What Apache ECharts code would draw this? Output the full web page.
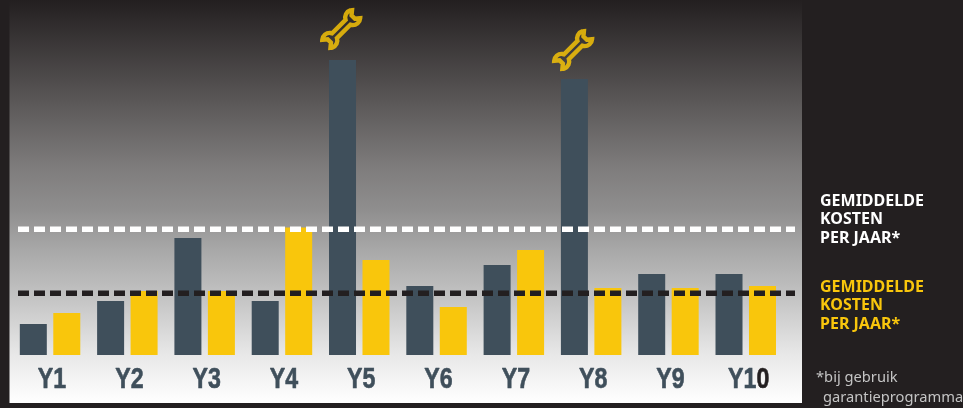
<!DOCTYPE html>
<html><head><meta charset="utf-8">
<style>html,body{margin:0;padding:0;background:#231f20}#c{width:963px;height:408px}</style>
<script src="https://cdn.jsdelivr.net/npm/echarts@6/dist/echarts.min.js"></script>
</head><body><div id="c"></div>
<script>
const categories = ['Y1','Y2','Y3','Y4','Y5','Y6','Y7','Y8','Y9','Y10'];
const slateValues = [31,54,117,54,295,69,90,276,81,81];
const yellowValues = [42,64,64,127.5,95,48,105,67,67,69];
const whiteAverage = 125.8;
const blackAverage = 61.7;
const wrenchValues = [null,null,null,null,326,null,null,305,null,null];
const wrenchPath = 'path://M-14 -5L14 -5A11 11 0 0 1 31 -8.5L25 -3.5L25 3.5L31 8.5A11 11 0 0 1 14 5L-14 5A11 11 0 0 1 -31 8.5L-25 3.5L-25 -3.5L-31 -8.5A11 11 0 0 1 -14 -5Z';
const chart = echarts.init(document.getElementById('c'), null, {renderer:'canvas'});
const rightFont = '"Noto Sans"';
const labelFont = '700 29px "Liberation Sans"';
chart.setOption({
  backgroundColor:'#231f20',
  animation:false,
  graphic:[
    {type:'rect',z:-10,shape:{x:9.5,y:0,width:792.5,height:403},style:{fill:new echarts.graphic.LinearGradient(0,0,0,1,[
      {offset:0,color:'#231f20'},{offset:0.25,color:'#5a5757'},{offset:0.42,color:'#7f7d7d'},{offset:0.52,color:'#8f8e8e'},
      {offset:0.62,color:'#a8a8a8'},{offset:0.745,color:'#c5c5c5'},{offset:0.88,color:'#e8e8e8'},{offset:1,color:'#ffffff'}])}},
    {type:'text',x:820,y:192,style:{text:'GEMIDDELDE\nKOSTEN\nPER JAAR*',fill:'#ffffff',font:'700 16px '+rightFont,lineHeight:18.5}},
    {type:'text',x:820,y:278,style:{text:'GEMIDDELDE\nKOSTEN\nPER JAAR*',fill:'#f9c60c',font:'700 16px '+rightFont,lineHeight:18.5}},
    {type:'text',x:816,y:370,style:{text:'*bij gebruik',fill:'#c4c4c4',font:'400 14.7px '+rightFont}},
    {type:'text',x:823,y:390,style:{text:'garantieprogramma',fill:'#c4c4c4',font:'400 14.7px '+rightFont}}
  ],
  grid:[
    {left:11.4,right:178.6,top:0,bottom:53},
    {left:18,right:168,top:0,bottom:53}
  ],
  xAxis:[
    {type:'category',gridIndex:0,data:categories,
     axisLine:{show:false},axisTick:{show:false},splitLine:{show:false},axisLabel:{show:false}},
    {type:'value',gridIndex:1,min:0,max:1,show:false}
  ],
  yAxis:[
    {type:'value',gridIndex:0,min:0,max:355,show:false},
    {type:'value',gridIndex:1,min:0,max:355,show:false}
  ],
  series:[
    {type:'bar',name:'slate',data:slateValues,barWidth:27,barGap:'24%',itemStyle:{color:'#3f4f5b'},z:2},
    {type:'bar',name:'yellow',data:yellowValues,barWidth:27,barGap:'24%',itemStyle:{color:'#f9c60c'},z:2},
    {type:'line',xAxisIndex:1,yAxisIndex:1,data:[[0,whiteAverage],[1,whiteAverage]],symbol:'none',z:3,
     lineStyle:{color:'#ffffff',width:5.5,type:[11,5]}},
    {type:'line',xAxisIndex:1,yAxisIndex:1,data:[[0,blackAverage],[1,blackAverage]],symbol:'none',z:3,
     lineStyle:{color:'#231f20',width:5.5,type:[11,5]}},
    {type:'scatter',data:wrenchValues,symbol:wrenchPath,symbolSize:42,symbolKeepAspect:true,symbolRotate:45,
     symbolOffset:[-18,0],z:4,
     itemStyle:{color:'rgba(0,0,0,0)',borderColor:'#ffcb05',borderWidth:4.4}},
    {type:'custom',silent:true,z:5,clip:false,data:categories.map((c,i)=>[i,0]),encode:{x:0,y:1},
     renderItem:(params,api)=>{
       const p=api.coord([api.value(0),0]);
       const v=categories[api.value(0)];
       const text=v.length>2?v.slice(0,-1)+'{d|'+v.slice(-1)+'}':v;
       return {type:'text',x:p[0]+(v.length>2?3:2),y:p[1]+25,scaleX:0.8,
         style:{text,font:labelFont,fill:'#3f4f5b',stroke:'#3f4f5b',lineWidth:0.6,align:'center',verticalAlign:'middle',
                rich:{d:{font:labelFont,fill:'#231f20',stroke:'#231f20',lineWidth:0.6}}}};
     }}
  ]
});
</script></body></html>
